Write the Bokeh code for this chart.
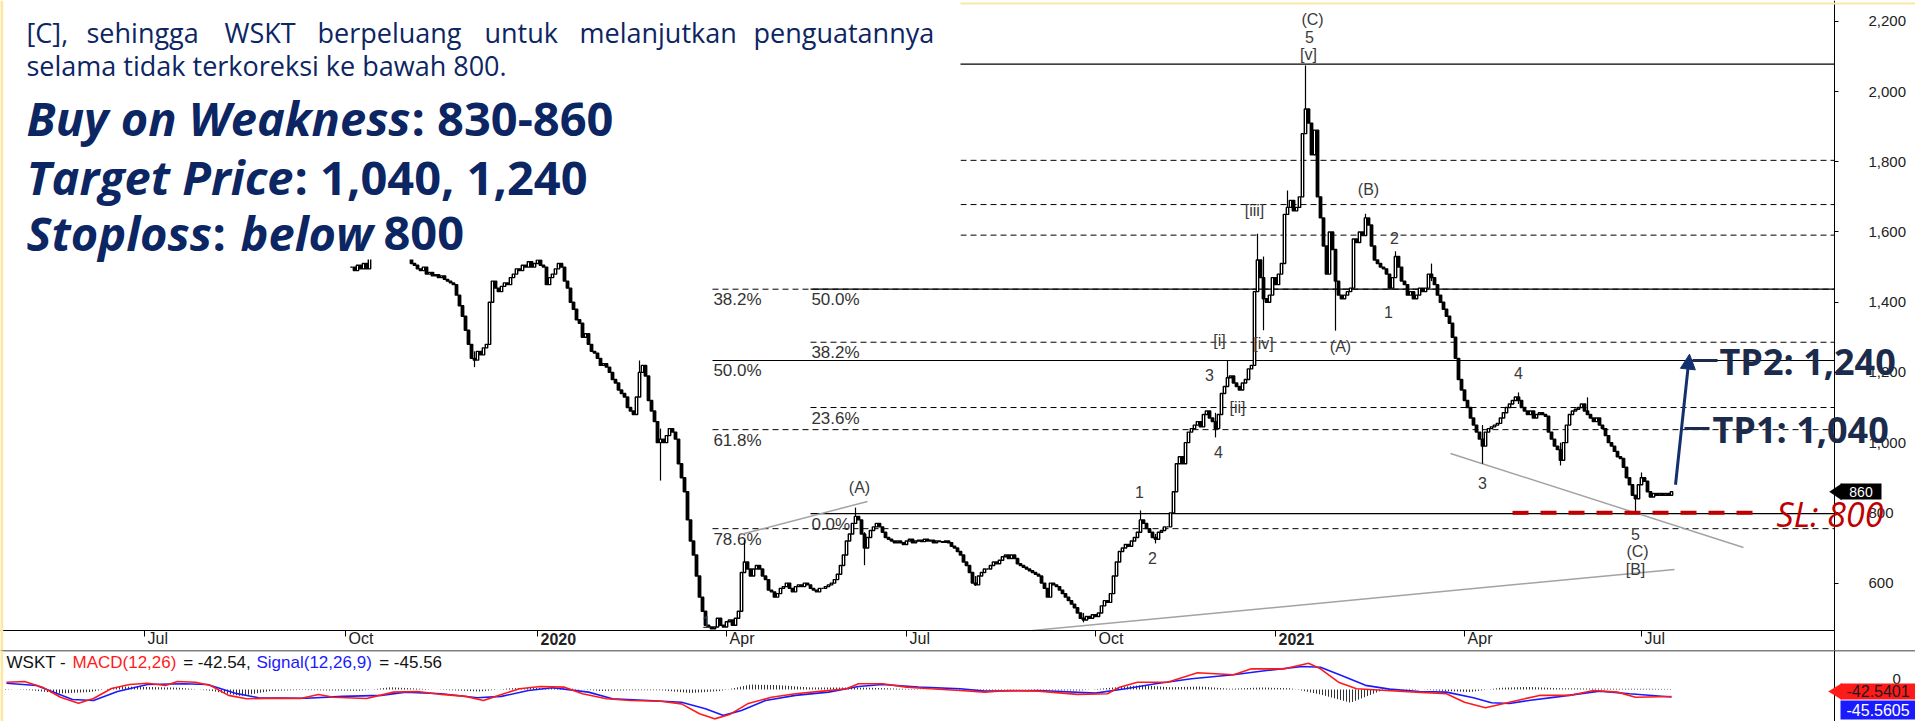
import numpy as np
from bokeh.plotting import figure
from bokeh.models import (Range1d, LinearAxis, FixedTicker, NumeralTickFormatter, Label,
                          BoxAnnotation, Span, Arrow, NormalHead, PolyAnnotation)
from bokeh.layouts import column
from bokeh.embed import file_html
from bokeh.resources import INLINE
from bokeh.core.properties import value

# ---------------- data ----------------
FIRST_BAR = 117          # trading-bar index of the first visible close
close = [
    1500, 1490, 1505, 1495, 1510, 1495, 1540, 1560, 1580, 1600,
    1590, 1570, 1580, 1600, 1590, 1570, 1560, 1550, 1540, 1525,
    1510, 1505, 1495, 1490, 1500, 1480, 1485, 1475, 1478, 1470,
    1475, 1465, 1460, 1455, 1450, 1420, 1390, 1360, 1320, 1280,
    1240, 1235, 1260, 1250, 1270, 1280, 1400, 1460, 1440, 1430,
    1445, 1455, 1450, 1470, 1480, 1495, 1490, 1505, 1500, 1515,
    1500, 1510, 1520, 1505, 1500, 1450, 1470, 1480, 1495, 1510,
    1500, 1460, 1440, 1400, 1380, 1350, 1340, 1300, 1310, 1280,
    1260, 1255, 1240, 1220, 1225, 1215, 1200, 1180, 1170, 1150,
    1140, 1130, 1100, 1090, 1080, 1130, 1200, 1220, 1190, 1120,
    1090, 1060, 1000, 1010, 1000, 1020, 1040, 1030, 1010, 940,
    900, 860, 780, 720, 680, 620, 560, 520, 480, 475,
    470, 475, 500, 480, 475, 490, 495, 480, 500, 520,
    630, 660, 640, 620, 640, 650, 640, 620, 610, 580,
    575, 560, 570, 585, 590, 600, 585, 575, 590, 595,
    590, 600, 595, 585, 580, 575, 585, 585, 590, 595,
    600, 610, 625, 650, 680, 720, 740, 770, 790, 780,
    740, 700, 730, 750, 760, 770, 760, 745, 730, 725,
    720, 715, 720, 715, 710, 720, 725, 715, 720, 722,
    718, 725, 720, 722, 715, 720, 718, 716, 720, 715,
    705, 700, 690, 680, 660, 650, 630, 600, 595, 620,
    630, 640, 640, 650, 660, 655, 665, 675, 680, 670,
    680, 670, 655, 650, 645, 640, 635, 630, 625, 620,
    600, 585, 560, 600, 595, 590, 580, 570, 560, 550,
    540, 530, 515, 500, 495, 505, 500, 510, 505, 515,
    535, 550, 545, 570, 620, 660, 690, 700, 710, 705,
    720, 730, 745, 780, 770, 755, 745, 730, 725, 745,
    750, 760, 760, 800, 860, 940, 960, 940, 1000, 1030,
    1040, 1050, 1060, 1045, 1080, 1090, 1070, 1060, 1040, 1080,
    1140, 1160, 1185, 1190, 1170, 1160, 1150, 1170, 1180, 1210,
    1220, 1430, 1520, 1470, 1410, 1400, 1420, 1470, 1450, 1480,
    1510, 1650, 1670, 1690, 1660, 1670, 1700, 1880, 1950, 1910,
    1820, 1890, 1700, 1640, 1560, 1480, 1600, 1550, 1460, 1420,
    1410, 1420, 1430, 1440, 1580, 1570, 1600, 1590, 1640, 1620,
    1560, 1520, 1510, 1500, 1495, 1480, 1440, 1470, 1530, 1500,
    1460, 1450, 1420, 1430, 1410, 1420, 1440, 1430, 1440, 1480,
    1470, 1450, 1420, 1400, 1380, 1360, 1340, 1300, 1240, 1180,
    1150, 1120, 1100, 1070, 1050, 1030, 1010, 990, 1030, 1040,
    1045, 1050, 1055, 1070, 1085, 1100, 1110, 1120, 1130, 1120,
    1100, 1090, 1080, 1090, 1070, 1080, 1085, 1080, 1075, 1030,
    1010, 990, 980, 950, 1000, 1050, 1080, 1090, 1095, 1100,
    1110, 1090, 1080, 1070, 1060, 1070, 1050, 1040, 1020, 1000,
    990, 975, 960, 955, 930, 900, 880, 850, 840, 880,
    900, 890, 860, 845, 855, 850, 855, 850, 855, 850,
    860,
]
wick_bar = [435, 445, 421, 419, 455, 409, 405, 380, 385, 361, 325, 285, 288, 248,
            213, 220, 494, 520, 506, 529, 545, 547, 465, 477, 429, 158]
wick_high = [2074, 1480, 1530, 1595, 1652, 1234, 1085, 807, 740, 515, 620, 815, 745, 722,
             1234, 1040, 1050, 1000, 1143, 1129, 850, 915, 1545, 1510, 1718, 1260]
wick_low = [1900, 1319, 1320, 1460, 1600, 1160, 1015, 760, 713, 488, 592, 770, 651, 630,
            1190, 892, 940, 935, 1110, 1090, 800, 880, 1470, 1460, 1660, 1215]

date_ticks = [48, 115, 179, 242, 302, 365, 425, 488, 547]
date_labels = ["Jul", "Oct", "2020", "Apr", "Jul", "Oct", "2021", "Apr", "Jul"]
year_labels = ["2020", "2021"]
price_ticks = [600, 800, 1000, 1200, 1400, 1600, 1800, 2000, 2200]
price_floor = 465.2      # price at the bottom edge of the price pane

fib_a_levels = [1437, 1234, 1037, 755]
fib_a_labels = ["38.2%", "50.0%", "61.8%", "78.6%"]
fib_a_solid = [False, True, False, False]
fib_b_levels = [798, 1100, 1286, 1437, 1591, 1678, 1804, 2078]
fib_b_labels = ["0.0%", "23.6%", "38.2%", "50.0%", "", "", "", ""]
fib_b_solid = [True, False, False, True, False, False, False, True]

last_close = 860
stop_loss = 800
tp1 = 1040
tp2 = 1240

macd_bar = [2, 8, 14, 20, 26, 31, 37, 43, 49, 55, 59, 65, 70, 76, 82, 92, 100, 106, 111, 122,
            131, 139, 147, 155, 161, 167, 173, 180, 188, 194, 202, 210, 220, 227, 233, 238, 243,
            249, 257, 265, 274, 282, 286, 294, 302, 310, 320, 328, 336, 346, 359, 369, 373, 379,
            389, 399, 411, 417, 428, 436, 440, 446, 452, 462, 472, 482, 488, 495, 503, 513, 523,
            531, 539, 545, 557]
macd_val = [44, 48, 14, -47, -83, -55, 6, 30, 38, 24, 48, 44, 24, -36, -56, -53, -55, -30, -47, -55,
            -16, -12, -30, -42, -67, -30, 4, 18, 14, -26, -56, -67, -71, -87, -147, -178, -152,
            -87, -47, -26, -10, 4, 35, 35, 14, 4, -6, -16, -6, -10, -30, -26, 14, 44,
            44, 101, 89, 125, 125, 159, 125, 44, 4, -6, -16, -26, -77, -111, -77, -36, -36,
            -6, -16, -47, -42.54]
signal_bar = [2, 12, 24, 31, 39, 49, 61, 69, 78, 86, 102, 114, 127, 135, 147, 159, 167, 176, 184,
              196, 204, 216, 227, 235, 241, 247, 255, 265, 276, 286, 294, 306, 320, 328, 346, 365,
              375, 385, 397, 411, 422, 434, 440, 447, 455, 463, 473, 482, 491, 497, 503, 510, 519,
              533, 543, 557]
signal_val = [38, 24, -61, -67, -12, 30, 35, 30, -22, -50, -53, -42, -36, -16, -26, -50, -42, -6, 10,
              -16, -56, -67, -77, -117, -157, -127, -67, -36, -16, 18, 30, 14, 4, -10, -6, -22,
              4, 35, 65, 89, 115, 139, 135, 85, 25, 2, -12, -16, -50, -80, -85, -65, -45,
              -10, -26, -45.56]
hist_bar = [0, 10, 20, 30, 40, 50, 60, 70, 80, 90, 100, 110, 120, 130, 140, 150, 160, 170, 180,
            190, 200, 210, 220, 230, 240, 250, 260, 270, 280, 290, 300, 310, 320, 330, 340, 350,
            360, 370, 380, 390, 400, 410, 420, 430, 440, 450, 460, 470, 480, 490, 500, 510, 520,
            530, 540, 550, 557]
hist_val = [4, -4, -25, -15, 18, 15, 10, -8, -40, -10, -3, -6, -8, 14, 5, -5, -12, 8, 10,
            6, -10, -5, -4, -22, -10, 30, 25, 12, 12, 10, 4, 0, -5, -4, -2, -4,
            -6, 10, 25, 14, 18, 4, 12, 8, -30, -80, -10, 5, -8, -15, 10, 15, 8,
            6, 4, 4, 3]
macd_last = -42.5401
signal_last = -45.5605

# ---------------- layout helpers (reference pixels -> data coords) ----------------
def px_x(xr):
    return xr / 3.0

def px_y(yr):
    return 2200 - (yr - 20.8) * 2.848

def m_y(yr):
    return (689 - yr) / 0.165

NB = "\u00a0"
NAVY = "#0c2563"
TPNAVY = "#1b2b4b"
ARROW = "#12306e"
TXT = "#333333"
YELLOW = "#fde7a2"
X_AXIS = px_x(1834)      # where the price scale sits
X_FULL = px_x(1915)
W = 1915
AXF = "Liberation Sans"

# ---------------- main price pane (frame includes the date-scale strip) ----------------
p = figure(width=W, height=650, x_range=Range1d(0, X_FULL), y_range=Range1d(px_y(650), 2259.2),
           output_backend="svg", toolbar_location=None, x_axis_location=None,
           y_axis_location=None, min_border_left=0, min_border_right=0,
           min_border_top=0, min_border_bottom=0)
p.outline_line_color = None
for g in p.grid:
    g.visible = False

pad_n = {"Jul": 6, "Oct": 7, "Apr": 7}
xax = LinearAxis(ticker=FixedTicker(ticks=date_ticks), bounds=(0, X_AXIS), fixed_location=price_floor,
                 major_label_overrides={t: ("" if l in year_labels else NB * pad_n[l] + l)
                                        for t, l in zip(date_ticks, date_labels)},
                 axis_line_color="black", major_tick_out=6, major_tick_in=0,
                 minor_tick_out=0, minor_tick_in=0, major_label_standoff=-6,
                 major_label_text_font=AXF, major_label_text_font_size="16px",
                 major_label_text_color="#222222")
p.add_layout(xax, "below")
yax = LinearAxis(ticker=FixedTicker(ticks=price_ticks), fixed_location=X_AXIS,
                 formatter=NumeralTickFormatter(format="0,0"),
                 axis_line_color="black", major_tick_out=4, major_tick_in=0,
                 minor_tick_out=0, minor_tick_in=0, major_label_standoff=30,
                 major_label_text_font=AXF, major_label_text_font_size="15px",
                 major_label_text_color="#222222")
p.add_layout(yax, "right")
for t, l in zip(date_ticks, date_labels):
    if l in year_labels:
        p.add_layout(Label(x=t + 1.0, y=px_y(639), text=l, text_font=AXF, text_font_style="bold",
                           text_font_size="16px", text_color="#222222", text_baseline="middle"))

# yellow page border (top)
p.add_layout(Span(location=px_y(3), dimension="width", line_color=YELLOW, line_width=2))

# Fibonacci lines
xa0, xb0 = px_x(712), px_x(810)
for x0, levels, solid in ((xa0, fib_a_levels, fib_a_solid), (xb0, fib_b_levels, fib_b_solid)):
    s = [l for l, f in zip(levels, solid) if f]
    d = [l for l, f in zip(levels, solid) if not f]
    p.segment(x0=[x0] * len(s), y0=s, x1=[X_AXIS] * len(s), y1=s, line_color="black", line_width=1.2)
    p.segment(x0=[x0] * len(d), y0=d, x1=[X_AXIS] * len(d), y1=d, line_color="black",
              line_width=1, line_dash="6 4")
for x0, levels, labels in ((xa0, fib_a_levels, fib_a_labels), (xb0, fib_b_levels, fib_b_labels)):
    lv = [l for l, t in zip(levels, labels) if t]
    lt = [t for t in labels if t]
    p.text(x=[x0 + 0.3] * len(lv), y=lv, text=lt, text_baseline="top", y_offset=1,
           text_font=value(AXF), text_font_size="17px", text_color=TXT)

# trend lines
gray = "#a3a3a3"
p.segment(x0=[px_x(740), px_x(1032), px_x(1450)], y0=[px_y(534), price_floor, px_y(453)],
          x1=[px_x(867), px_x(1674), px_x(1743)], y1=[px_y(501), px_y(569), px_y(547)],
          line_color=gray, line_width=1.5)

# candles
bars = np.arange(FIRST_BAR, FIRST_BAR + len(close))
cl = np.array(close, dtype=float)
op = np.concatenate([[cl[0]], cl[:-1]])
up = cl >= op
p.segment(x0=wick_bar, y0=wick_low, x1=wick_bar, y1=wick_high, line_color="black", line_width=1.2)
p.vbar(x=bars[up], width=0.8, top=cl[up], bottom=op[up], fill_color="white",
       line_color="black", line_width=1.4)
p.vbar(x=bars[~up], width=0.8, top=op[~up], bottom=cl[~up], fill_color="black",
       line_color="black", line_width=1.4)

# stop-loss line
p.segment(x0=[px_x(1512)], y0=[stop_loss], x1=[px_x(1757)], y1=[stop_loss],
          line_color="#c00000", line_width=4, line_dash="16 12")

# target arrow and TP ticks
p.add_layout(Arrow(end=NormalHead(size=15, fill_color=ARROW, line_color=ARROW),
                   x_start=px_x(1675), y_start=880, x_end=px_x(1689), y_end=1252,
                   line_color=ARROW, line_width=3))
p.segment(x0=[px_x(1692), px_x(1684)], y0=[px_y(360), px_y(428)],
          x1=[px_x(1717), px_x(1709)], y1=[px_y(360), px_y(428)],
          line_color=TPNAVY, line_width=3)

# wave labels
waves = [("(C)", 1312, 19), ("5", 1309, 37), ("[v]", 1308, 54), ("(B)", 1368, 189),
         ("[iii]", 1254, 210), ("2", 1394, 238), ("1", 1388, 312), ("[i]", 1219, 340),
         ("[iv]", 1263, 343), ("(A)", 1340, 346), ("3", 1209, 375), ("4", 1518, 373),
         ("[ii]", 1237, 407), ("4", 1218, 452), ("3", 1482, 483), ("(A)", 859, 487),
         ("1", 1139, 492), ("2", 1152, 558), ("5", 1635, 534), ("(C)", 1637, 551),
         ("[B]", 1635, 569), ("1", 706, 622)]
p.text(x=[px_x(w[1]) for w in waves], y=[px_y(w[2]) for w in waves], text=[w[0] for w in waves],
       text_align="center", text_baseline="middle", text_font=value(AXF),
       text_font_size="16px", text_color="#3a3a3a")

# TP / SL texts and last price tag
p.add_layout(Label(x=px_x(1719), y=px_y(361), text=f"TP2: {tp2:,}", text_font="Open Sans",
                   text_font_style="bold", text_font_size="36px", text_color=TPNAVY,
                   text_baseline="middle"))
p.add_layout(Label(x=px_x(1712), y=px_y(429), text=f"TP1: {tp1:,}", text_font="Open Sans",
                   text_font_style="bold", text_font_size="36px", text_color=TPNAVY,
                   text_baseline="middle"))
p.add_layout(Label(x=px_x(1776), y=px_y(514), text=f"SL: {stop_loss}", text_font="Open Sans",
                   text_font_style="italic", text_font_size="34px", text_color="#c00000",
                   text_baseline="middle"))
p.add_layout(PolyAnnotation(xs=[px_x(1829), px_x(1841), px_x(1841)],
                            ys=[last_close, last_close + 23, last_close - 23],
                            fill_color="black", fill_alpha=1, line_color="black"))
p.add_layout(BoxAnnotation(left=px_x(1840), right=px_x(1881), bottom=px_y(499), top=px_y(483),
                           fill_color="black", fill_alpha=1, line_alpha=0))
p.add_layout(Label(x=px_x(1860.5), y=last_close, text=f"{last_close}", text_font=AXF,
                   text_font_size="14px", text_color="white", text_align="center",
                   text_baseline="middle"))

# report text box covering the upper left part of the chart
p.add_layout(BoxAnnotation(left=0, right=px_x(960), bottom=px_y(259), top=2259.2,
                           fill_color="white", fill_alpha=1, line_alpha=0))
p.add_layout(Span(location=0.4, dimension="height", line_color=YELLOW, line_width=3))

para1 = [("[C],", 26), ("sehingga", 86), ("WSKT", 224), ("berpeluang", 317), ("untuk", 484),
         ("melanjutkan", 579), ("penguatannya", 753)]
for w, xr in para1:
    p.add_layout(Label(x=px_x(xr), y=px_y(32), text=w, text_font="Open Sans",
                       text_font_size="27px", text_color=NAVY, text_baseline="alphabetic"))
p.add_layout(Label(x=px_x(26), y=px_y(65), text="selama tidak terkoreksi ke bawah 800.",
                   text_font="Open Sans", text_font_size="27px", text_color=NAVY,
                   text_baseline="alphabetic"))
big = [("Buy on Weakness", 26, 118, "bold italic"), (": 830-860", 411, 118, "bold"),
       ("Target Price", 26, 177, "bold italic"), (": 1,040, 1,240", 294, 177, "bold"),
       ("Stoploss", 26, 233, "bold italic"), (":", 212, 233, "bold"),
       ("below", 240, 233, "bold italic"), ("800", 383, 233, "bold")]
for t, xr, yr, st in big:
    p.add_layout(Label(x=px_x(xr), y=px_y(yr), text=t, text_font="Open Sans",
                       text_font_style=st, text_font_size="47px", text_color=NAVY,
                       text_baseline="alphabetic"))

# ---------------- MACD pane ----------------
pm = figure(width=W, height=71, x_range=p.x_range, y_range=Range1d(-194, 236),
            output_backend="svg", toolbar_location=None, x_axis_location=None,
            y_axis_location=None, min_border_left=0, min_border_right=0,
            min_border_top=0, min_border_bottom=0)
pm.outline_line_color = None
for g in pm.grid:
    g.visible = False
may = LinearAxis(ticker=FixedTicker(ticks=[0]), fixed_location=X_AXIS, axis_line_color="black",
                 major_label_overrides={0: ""},
                 major_tick_out=4, major_tick_in=0, minor_tick_out=0, minor_tick_in=0,
                 major_label_standoff=30, major_label_text_font=AXF,
                 major_label_text_font_size="15px", major_label_text_color="#222222")
pm.add_layout(may, "right")
pm.add_layout(Label(x=px_x(1892), y=m_y(679), text="0", text_font=AXF, text_font_size="15px",
                    text_color="#222222", text_baseline="middle"))
pm.add_layout(Span(location=236, dimension="width", line_color="black", line_width=1.5))
pm.add_layout(Span(location=0.4, dimension="height", line_color=YELLOW, line_width=3))

pm.varea(x=hist_bar, y1=[0] * len(hist_bar), y2=hist_val, fill_alpha=0,
         hatch_pattern="vertical_line", hatch_color="#333333", hatch_scale=3, hatch_weight=1)
pm.line(signal_bar, signal_val, line_color="#1a1aff", line_width=1.6)
pm.line(macd_bar, macd_val, line_color="#ff1a1a", line_width=1.6)

title_parts = [("WSKT -", 6, "#111111"), ("MACD(12,26)", 72, "#ff1a1a"),
               (f"{NB}={NB}{macd_last:.2f},", 178, "#111111"), ("Signal(12,26,9)", 256, "#1a1aff"),
               (f"{NB}={NB}{signal_last:.2f}", 374, "#111111")]
for t, xr, c in title_parts:
    pm.add_layout(Label(x=px_x(xr), y=m_y(662), text=t, text_font=AXF, text_font_size="17px",
                        text_color=c, text_baseline="middle"))

# value tags on the MACD scale
pm.add_layout(PolyAnnotation(xs=[px_x(1828), px_x(1841), px_x(1841)],
                             ys=[m_y(691), m_y(683), m_y(699)],
                             fill_color="#ff1a1a", fill_alpha=1, line_color="#ff1a1a"))
pm.add_layout(BoxAnnotation(left=px_x(1840), right=X_FULL, bottom=m_y(699), top=m_y(683),
                            fill_color="#ff1a1a", fill_alpha=1, line_alpha=0))
pm.add_layout(BoxAnnotation(left=px_x(1840), right=X_FULL, bottom=m_y(719), top=m_y(700),
                            fill_color="#1a1aff", fill_alpha=1, line_alpha=0))
pm.add_layout(Label(x=px_x(1846), y=m_y(691), text=f"{macd_last:.4f}", text_font=AXF,
                    text_font_size="16px", text_color="#1a1a1a", text_baseline="middle"))
pm.add_layout(Label(x=px_x(1846), y=m_y(709.5), text=f"{signal_last:.4f}", text_font=AXF,
                    text_font_size="16px", text_color="white", text_baseline="middle"))

layout = column(p, pm, spacing=0)
open("out.html", "w").write(file_html(layout, INLINE, "WSKT"))
